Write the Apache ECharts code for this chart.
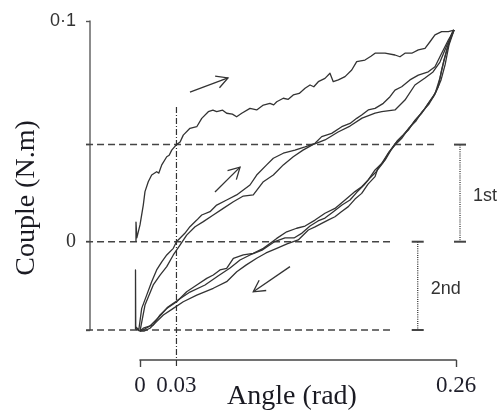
<!DOCTYPE html>
<html>
<head>
<meta charset="utf-8">
<script src="https://cdn.jsdelivr.net/npm/echarts@6/dist/echarts.min.js"></script>
<style>
  html, body { margin: 0; padding: 0; background: #fff; }
  #main { width: 502px; height: 413px; }
</style>
</head>
<body>
<div id="main"></div>
<script>
// Torque–angle hysteresis: first loading, then alternating unload / reload cycles.
// Points are [angle (rad), couple (N.m)].
const firstLoading = [
  [-0.0033,0],[-0.0033,0.0089],[-0.0026,0.0017],[0,0.0076],[0.0027,0.0166],[0.0041,0.0227],
  [0.0068,0.0272],[0.0096,0.0302],[0.0137,0.0317],[0.0155,0.0311],[0.0179,0.0348],[0.0220,0.0385],
  [0.0240,0.0392],[0.0261,0.0415],[0.0300,0.0440],[0.0330,0.0452],[0.0356,0.0483],[0.0411,0.0514],
  [0.0467,0.0521],[0.0508,0.0559],[0.0562,0.0589],[0.0600,0.0596],[0.0631,0.0589],[0.0680,0.0596],
  [0.0713,0.0582],[0.0760,0.0578],[0.0795,0.0566],[0.0837,0.0582],[0.0905,0.0604],[0.0960,0.0597],
  [0.1015,0.0619],[0.1069,0.0627],[0.1100,0.0620],[0.1125,0.0634],[0.1179,0.0650],[0.1220,0.0645],
  [0.1261,0.0665],[0.1310,0.0672],[0.1358,0.0695],[0.1399,0.0710],[0.1430,0.0702],[0.1467,0.0725],
  [0.1522,0.0740],[0.1563,0.0763],[0.1590,0.0725],[0.1632,0.0733],[0.1687,0.0748],[0.1742,0.0778],
  [0.1783,0.0816],[0.1851,0.0823],[0.1900,0.0840],[0.1934,0.0854],[0.2016,0.0854],[0.2098,0.0846],
  [0.2139,0.0838],[0.2180,0.0854],[0.2236,0.0854],[0.2290,0.0869],[0.2345,0.0876],[0.2386,0.0906],
  [0.2427,0.0937],[0.2482,0.0952],[0.2537,0.0952],[0.2584,0.0959]
];

const unloading1 = [
  [0.2584,0.0959],[0.2565,0.0944],[0.2523,0.0869],[0.2482,0.0778],[0.2454,0.0702],[0.2413,0.0657],
  [0.2372,0.0627],[0.2318,0.0582],[0.2263,0.0551],[0.2208,0.0506],[0.2153,0.0476],[0.2098,0.0443],
  [0.2043,0.0401],[0.1989,0.0355],[0.1934,0.0325],[0.1878,0.0280],[0.1824,0.0249],[0.1769,0.0227],
  [0.1687,0.0189],[0.1604,0.0151],[0.1522,0.0129],[0.1440,0.0098],[0.1358,0.0071],[0.1289,0.0061],
  [0.1207,0.0045],[0.1125,0.0015],[0.1015,-0.0030],[0.0932,-0.0053],[0.0850,-0.0060],[0.0768,-0.0075],
  [0.0713,-0.0121],[0.0658,-0.0128],[0.0603,-0.0151],[0.0549,-0.0166],[0.0467,-0.0196],[0.0384,-0.0227],
  [0.0302,-0.0272],[0.0220,-0.0302],[0.0165,-0.0332],[0.0109,-0.0377],[0.0027,-0.0392],[0,-0.0405]
];

const reloading1 = [
  [0,-0.0405],[-0.0037,-0.0395],[-0.0037,-0.0128],[-0.0035,-0.0385],[-0.0010,-0.0400],
  [0.0014,-0.0302],[0.0055,-0.0242],[0.0096,-0.0181],[0.0137,-0.0128],[0.0179,-0.0091],
  [0.0220,-0.0060],[0.0274,-0.0030],[0.0300,0],[0.0369,0.0038],[0.0411,0.0068],[0.0467,0.0098],
  [0.0508,0.0121],[0.0576,0.0136],[0.0631,0.0166],[0.0713,0.0189],[0.0795,0.0212],[0.0850,0.0234],
  [0.0905,0.0257],[0.0960,0.0302],[0.1042,0.0348],[0.1097,0.0378],[0.1179,0.0401],[0.1275,0.0415],
  [0.1358,0.0430],[0.1440,0.0446],[0.1495,0.0476],[0.1577,0.0491],[0.1660,0.0521],[0.1728,0.0536],
  [0.1783,0.0559],[0.1824,0.0574],[0.1878,0.0597],[0.1934,0.0604],[0.2002,0.0627],[0.2057,0.0657],
  [0.2098,0.0687],[0.2153,0.0702],[0.2221,0.0733],[0.2290,0.0755],[0.2372,0.0770],[0.2427,0.0793],
  [0.2482,0.0854],[0.2537,0.0914],[0.2584,0.0959]
];

const unloading2 = [
  [0.2584,0.0959],[0.2542,0.0891],[0.2510,0.0801],[0.2477,0.0733],[0.2435,0.0678],[0.2386,0.0638],
  [0.2337,0.0597],[0.2279,0.0560],[0.2222,0.0520],[0.2164,0.0483],[0.2115,0.0456],[0.2065,0.0415],
  [0.2016,0.0370],[0.1958,0.0334],[0.1934,0.0295],[0.1876,0.0261],[0.1824,0.0219],[0.1769,0.0193],
  [0.1714,0.0159],[0.1654,0.0135],[0.1604,0.0113],[0.1547,0.0098],[0.1495,0.0083],[0.1440,0.0067],
  [0.1385,0.0053],[0.1302,0.0008],[0.1210,-0.0010],[0.1125,-0.0030],[0.1037,-0.0051],[0.0960,-0.0075],
  [0.0872,-0.0106],[0.0796,-0.0136],[0.0713,-0.0181],[0.0603,-0.0211],[0.0467,-0.0242],[0.0356,-0.0272],
  [0.0274,-0.0302],[0.0192,-0.0332],[0.0137,-0.0362],[0.0082,-0.0392],[0.0033,-0.0405],[0,-0.0405]
];

const reloading2 = [
  [0,-0.0405],[0.0041,-0.0287],[0.0109,-0.0196],[0.0165,-0.0151],[0.0220,-0.0113],[0.0274,-0.0060],
  [0.0329,-0.0015],[0.0384,0.0030],[0.0453,0.0068],[0.0521,0.0091],[0.0603,0.0121],[0.0685,0.0151],
  [0.0768,0.0181],[0.0850,0.0207],[0.0932,0.0212],[0.1015,0.0272],[0.1097,0.0302],[0.1179,0.0348],
  [0.1261,0.0385],[0.1341,0.0415],[0.1422,0.0440],[0.1522,0.0461],[0.1630,0.0497],[0.1728,0.0524],
  [0.1827,0.0560],[0.1934,0.0583],[0.1989,0.0589],[0.2098,0.0597],[0.2180,0.0642],[0.2262,0.0710],
  [0.2345,0.0742],[0.2411,0.0769],[0.2468,0.0814],[0.2526,0.0891],[0.2584,0.0959]
];

const unloading3 = [
  [0.2584,0.0959],[0.2551,0.0914],[0.2501,0.0823],[0.2468,0.0742],[0.2427,0.0669],[0.2378,0.0624],
  [0.2320,0.0588],[0.2271,0.0547],[0.2213,0.0515],[0.2156,0.0470],[0.2098,0.0438],[0.2049,0.0406],
  [0.1999,0.0357],[0.1942,0.0316],[0.1892,0.0289],[0.1843,0.0257],[0.1785,0.0225],[0.1728,0.0189],
  [0.1662,0.0166],[0.1588,0.0135],[0.1522,0.0107],[0.1465,0.0094],[0.1399,0.0071],[0.1333,0.0039],
  [0.1267,0.0017],[0.1193,0.0017],[0.1103,-0.0001],[0.1004,-0.0038],[0.0905,-0.0060],[0.0823,-0.0083],
  [0.0741,-0.0119],[0.0642,-0.0155],[0.0535,-0.0196],[0.0411,-0.0228],[0.0313,-0.0264],[0.0230,-0.0296],
  [0.0148,-0.0346],[0.0082,-0.0382],[0.0025,-0.0400],[0,-0.0405]
];

const curves = [firstLoading, unloading1, reloading1, unloading2, reloading2, unloading3];

// Reference levels: couple at 0.03 rad on first loading, zero, and the minimum.
const firstLevel = 0.044;
const zeroLevel = 0;
const minLevel = -0.04;
const refAngle = 0.03;
const refLineStart = -0.0444;
// Dashed guides: [x1, y1, x2, y2]
const refLines = [
  [refLineStart, firstLevel, 0.2427, firstLevel],
  [refLineStart, zeroLevel, 0.2057, zeroLevel],
  [refLineStart, minLevel, 0.2057, minLevel]
];
const refAngleLine = [refAngle, 0.061, refAngle, -0.0572];

// Range bars: [angle, low, high, label]
const rangeBars = [
  [0.2633, zeroLevel, firstLevel, '1st'],
  [0.2285, minLevel, zeroLevel, '2nd']
];

// Direction arrows: [fromAngle, fromCouple, toAngle, toCouple]
const arrows = [
  [0.0411, 0.0678, 0.0724, 0.0742],
  [0.0617, 0.0225, 0.0823, 0.0338],
  [0.1234, -0.0113, 0.0932, -0.0227]
];

const xTickLabels = [0, 0.03, 0.26];
const yTickLabels = [0, 0.1];

const ink = '#333';

function segment(api, d, style) {
  const a = api.coord([d[0], d[1]]);
  const b = api.coord([d[2], d[3]]);
  return { type: 'line', shape: { x1: a[0], y1: a[1], x2: b[0], y2: b[1] }, style: style };
}

const chart = echarts.init(document.getElementById('main'));
chart.setOption({
  animation: false,
  backgroundColor: '#fff',
  grid: { left: 140, right: 46, top: 21, bottom: 83 },
  xAxis: {
    type: 'value', min: 0, max: 0.26, offset: 30,
    splitLine: { show: false },
    axisLine: { onZero: false, lineStyle: { color: '#444', width: 1.6 } },
    axisTick: { customValues: [0, 0.26], length: 7, lineStyle: { color: '#444', width: 1.4 } },
    axisLabel: {
      customValues: xTickLabels, margin: 14,
      fontFamily: 'Liberation Serif', fontSize: 23, color: '#1e1e2a',
      formatter: v => String(v)
    }
  },
  yAxis: {
    type: 'value', min: -0.04, max: 0.1, offset: 50,
    splitLine: { show: false },
    axisLine: { onZero: false, lineStyle: { color: '#666', width: 1.5 } },
    axisTick: { customValues: [-0.04, 0, firstLevel, 0.1], length: 4, lineStyle: { color: '#555', width: 1.4 } },
    axisLabel: {
      customValues: yTickLabels, margin: 14,
      formatter: v => (v === 0 ? '{r|0}' : '{s|0·1}'),
      rich: {
        r: { fontFamily: 'Liberation Serif', fontSize: 20, color: '#333' },
        s: { fontFamily: 'Liberation Sans', fontSize: 18, color: '#333' }
      }
    }
  },
  graphic: [
    {
      type: 'text', x: 27, y: 198, rotation: Math.PI / 2,
      style: { text: 'Couple (N.m)', font: '28px "Liberation Serif"', fill: '#1a1a22',
               textAlign: 'center', textVerticalAlign: 'middle' }
    },
    {
      type: 'text', x: 292, y: 397,
      style: { text: 'Angle (rad)', font: '28px "Liberation Serif"', fill: '#1a1a22',
               textAlign: 'center', textVerticalAlign: 'middle' }
    }
  ],
  series: [
    {
      // dashed guide lines
      type: 'custom', clip: false, silent: true,
      data: refLines,
      renderItem: (params, api) => segment(api, refLines[params.dataIndex],
        { stroke: '#444', lineWidth: 1.5, lineDash: [7, 4] })
    },
    {
      type: 'custom', clip: false, silent: true,
      data: [refAngleLine],
      renderItem: (params, api) => segment(api, refAngleLine,
        { stroke: '#333', lineWidth: 1.2, lineDash: [6, 2, 1, 2] })
    },
    {
      // loading / unloading branches
      type: 'custom', clip: false, silent: true,
      data: curves.map(c => c[0]),
      renderItem: function (params, api) {
        const pts = curves[params.dataIndex].map(p => api.coord(p));
        return {
          type: 'polyline', shape: { points: pts },
          style: { stroke: ink, lineWidth: 1.3, fill: null, lineJoin: 'round' }
        };
      }
    },
    {
      type: 'custom', clip: false, silent: true, data: rangeBars,
      renderItem: function (params, api) {
        const top = api.coord([api.value(0), api.value(2)]);
        const bot = api.coord([api.value(0), api.value(1)]);
        const cap = 6;
        const line = (x1, y1, x2, y2, w, dash) => ({
          type: 'line', shape: { x1, y1, x2, y2 },
          style: { stroke: '#444', lineWidth: w, lineDash: dash || null }
        });
        return {
          type: 'group',
          children: [
            line(top[0], top[1], bot[0], bot[1], 1.4, [1, 1.2]),
            line(top[0] - cap, top[1], top[0] + cap, top[1], 2),
            line(bot[0] - cap, bot[1], bot[0] + cap, bot[1], 2),
            {
              type: 'text', x: top[0] + 13, y: (top[1] + bot[1]) / 2 + 3,
              style: { text: rangeBars[params.dataIndex][3], font: '18px "Liberation Sans"',
                       fill: '#333', textAlign: 'left', textVerticalAlign: 'middle' }
            }
          ]
        };
      }
    },
    {
      type: 'custom', clip: false, silent: true, data: arrows,
      renderItem: function (params, api) {
        const a = api.coord([api.value(0), api.value(1)]);
        const b = api.coord([api.value(2), api.value(3)]);
        const ang = Math.atan2(b[1] - a[1], b[0] - a[0]);
        const len = 13, spread = 0.5;
        const w1 = [b[0] - len * Math.cos(ang - spread), b[1] - len * Math.sin(ang - spread)];
        const w2 = [b[0] - len * Math.cos(ang + spread), b[1] - len * Math.sin(ang + spread)];
        const st = { stroke: '#333', lineWidth: 1.3, fill: null };
        return {
          type: 'group',
          children: [
            { type: 'line', shape: { x1: a[0], y1: a[1], x2: b[0], y2: b[1] }, style: st },
            { type: 'polyline', shape: { points: [w1, b, w2] }, style: st }
          ]
        };
      }
    }
  ]
});
</script>
</body>
</html>
